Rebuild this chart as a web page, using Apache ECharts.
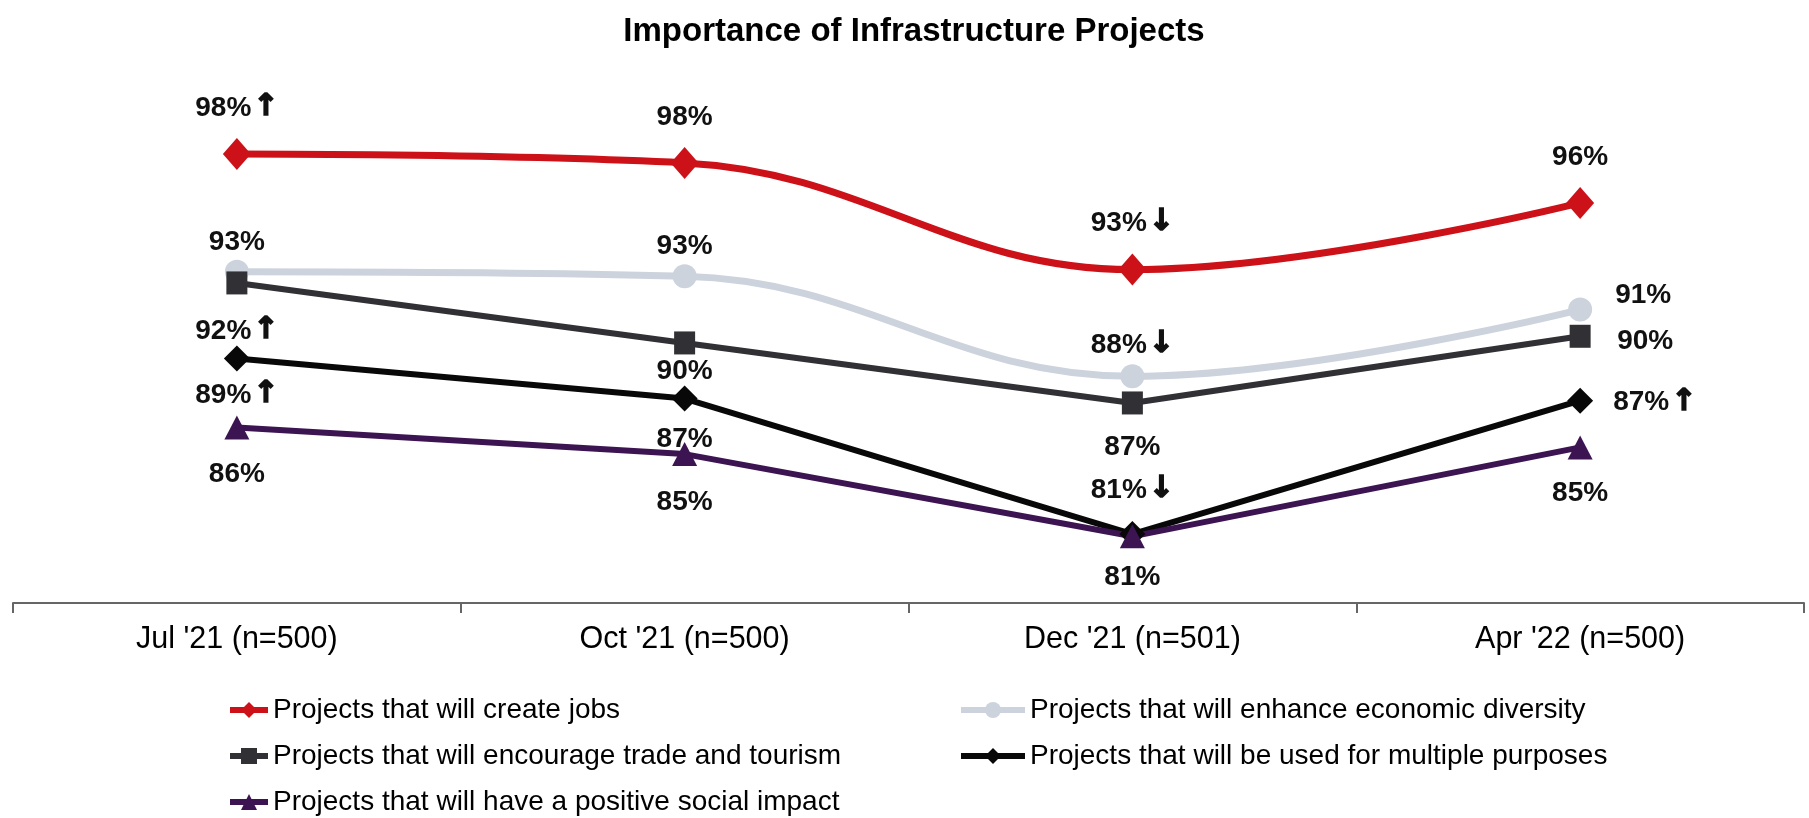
<!DOCTYPE html>
<html>
<head>
<meta charset="utf-8">
<script src="https://cdn.jsdelivr.net/npm/echarts@6/dist/echarts.min.js"></script>
<style>
  html, body { margin: 0; padding: 0; background: #ffffff; }
  #chart { width: 1809px; height: 818px; }
</style>
</head>
<body>
<div id="chart"></div>
<script>
// ---- Data ----
const categories = ["Jul '21 (n=500)", "Oct '21 (n=500)", "Dec '21 (n=501)", "Apr '22 (n=500)"];
const seriesNames = [
  'Projects that will create jobs',
  'Projects that will enhance economic diversity',
  'Projects that will encourage trade and tourism',
  'Projects that will be used for multiple purposes',
  'Projects that will have a positive social impact'
];
const jobs      = [98.2, 97.8, 93.0, 96.0];
const diversity = [92.9, 92.7, 88.2, 91.2];
const trade     = [92.4, 89.7, 87.0, 90.0];
const multiple  = [89.0, 87.2, 81.1, 87.1];
const social    = [85.9, 84.7, 81.0, 85.0];
// significant change markers
const jobsSig      = ['up', '', 'down', ''];
const diversitySig = ['', '', 'down', ''];
const tradeSig     = ['up', '', '', ''];
const multipleSig  = ['up', '', 'down', 'up'];
const socialSig    = ['', '', '', ''];

// ---- Label placement (style) : [dx, dy, align] relative to marker centre ----
const labelPlace = {
  jobs:      [[0, -46, 'center'], [0, -46, 'center'], [0, -46, 'center'], [0, -46, 'center']],
  diversity: [[0, -30, 'center'], [0, -30, 'center'], [0, -31, 'center'], [35, -14, 'left']],
  trade:     [[0, 48, 'center'], [0, 28, 'center'], [0, 44, 'center'], [37, 5, 'left']],
  multiple:  [[0, 37, 'center'], [0, 41, 'center'], [0, -44, 'center'], [33, 2, 'left']],
  social:    [[0, 47, 'center'], [0, 48, 'center'], [0, 41, 'center'], [0, 46, 'center']]
};

const ARROW = { up: '\u2191', down: '\u2193', '': '' };

function buildData(values, sigs, places) {
  return values.map((v, i) => {
    const p = places[i];
    const arrow = ARROW[sigs[i]];
    const txt = '{n|' + Math.round(v) + '%}' + (arrow ? '{a|' + arrow + '}' : '');
    return {
      value: v,
      label: {
        show: true,
        position: 'inside',
        align: p[2],
        verticalAlign: 'middle',
        offset: [p[0], p[1]],
        formatter: txt
      }
    };
  });
}

const labelRich = {
  n: { fontFamily: 'Liberation Sans, Arial, sans-serif', fontWeight: 'bold', fontSize: 28, color: '#111' },
  a: { fontFamily: 'DejaVu Sans', fontWeight: 'bold', fontSize: 30, color: '#111',
       textBorderColor: '#111', textBorderWidth: 1.6, padding: [0, 0, 2, 2] }
};

function mkSeries(name, values, sigs, places, color, lineW, symbol, symSize, smooth) {
  return {
    name: name,
    type: 'line',
    data: buildData(values, sigs, places),
    smooth: smooth,
    symbol: symbol,
    symbolSize: symSize,
    showAllSymbol: true,
    lineStyle: { color: color, width: lineW },
    itemStyle: { color: color, borderWidth: 0 },
    label: { show: true, rich: labelRich },
    emphasis: { disabled: true }
  };
}

const legendText = { fontFamily: 'Liberation Sans, Arial, sans-serif', fontSize: 28, color: '#000' };

const chart = echarts.init(document.getElementById('chart'), null, { renderer: 'canvas' });
const option = {
  backgroundColor: '#ffffff',
  animation: false,
  title: {
    text: 'Importance of Infrastructure Projects',
    left: 909,
    textAlign: 'center',
    top: 10,
    textStyle: { fontFamily: 'Liberation Sans, Arial, sans-serif', fontWeight: 'bold', fontSize: 33, color: '#000' }
  },
  grid: { left: 13, right: 5, top: 114, bottom: 215, containLabel: false },
  xAxis: {
    type: 'category',
    data: categories,
    boundaryGap: true,
    axisLine: { lineStyle: { color: '#666', width: 2 } },
    axisTick: { show: true, length: 10, lineStyle: { color: '#666', width: 2 } },
    axisLabel: { fontFamily: 'Liberation Sans, Arial, sans-serif', fontSize: 30.5, color: '#000', margin: 21 },
    splitLine: { show: false }
  },
  yAxis: { type: 'value', min: 78, max: 100, interval: 2, show: false },
  legend: [
    {
      orient: 'vertical', left: 227, top: 696, padding: 0,
      itemWidth: 38, itemHeight: 20, itemGap: 18,
      lineStyle: { width: 6 },
      data: [seriesNames[0], seriesNames[2], seriesNames[4]],
      textStyle: legendText
    },
    {
      orient: 'vertical', left: 958, top: 696, padding: 0,
      itemWidth: 64, itemHeight: 20, itemGap: 18,
      lineStyle: { width: 6 },
      data: [seriesNames[1], seriesNames[3]],
      textStyle: legendText
    }
  ],
  series: [
    mkSeries(seriesNames[0], jobs, jobsSig, labelPlace.jobs, '#cc1118', 7, 'diamond', [28, 32], 0.4),
    mkSeries(seriesNames[1], diversity, diversitySig, labelPlace.diversity, '#ccd3dd', 7, 'circle', 24, 0.4),
    mkSeries(seriesNames[2], trade, tradeSig, labelPlace.trade, '#303035', 6, 'rect', [21, 23], false),
    mkSeries(seriesNames[3], multiple, multipleSig, labelPlace.multiple, '#080808', 6, 'diamond', [26, 26], false),
    mkSeries(seriesNames[4], social, socialSig, labelPlace.social, '#3c1452', 6, 'triangle', [25, 24], false)
  ]
};
chart.setOption(option);
</script>
</body>
</html>
